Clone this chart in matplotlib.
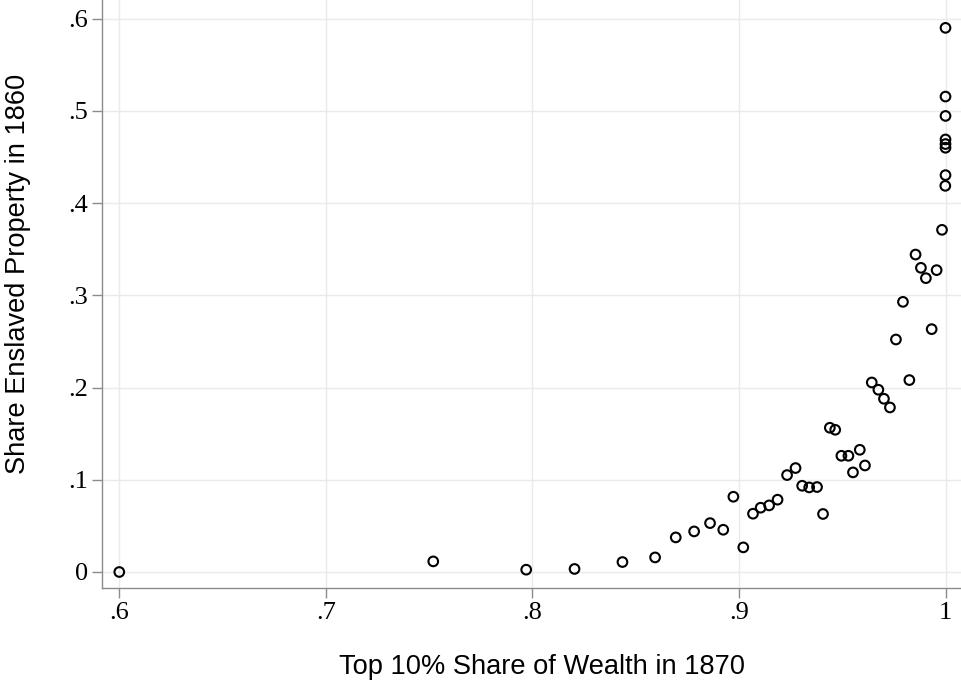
import matplotlib.pyplot as plt

# top 10% share of wealth in 1870 (x) and share of enslaved property in 1860 (y)
top10_share = [
    0.600, 0.752, 0.797, 0.8204, 0.8436, 0.8594, 0.8694, 0.8783, 0.886, 0.8924,
    0.8973, 0.9021, 0.9068, 0.9105, 0.9146, 0.9187, 0.9233, 0.9274, 0.9306, 0.934,
    0.9378, 0.9407, 0.944, 0.9466, 0.9496, 0.953, 0.9585, 0.9552, 0.961, 0.9643,
    0.9675, 0.9702, 0.9731, 0.976, 0.9825, 0.9794, 0.9933, 0.9855, 0.9881, 0.9905,
    0.9957, 0.9983, 0.9999, 1.0, 1.0, 1.0, 1.0, 1.0, 1.0, 1.0,
]
enslaved_share = [
    0.000, 0.0115, 0.0025, 0.0033, 0.0108, 0.0158, 0.0375, 0.044, 0.053, 0.0458,
    0.0816, 0.0267, 0.0632, 0.0697, 0.0722, 0.0784, 0.1051, 0.1127, 0.0935, 0.0917,
    0.0921, 0.0629, 0.1564, 0.1542, 0.126, 0.126, 0.1325, 0.108, 0.1155, 0.2055,
    0.1976, 0.1878, 0.1784, 0.2521, 0.2081, 0.2929, 0.2633, 0.3442, 0.3298, 0.3186,
    0.3273, 0.371, 0.4187, 0.4303, 0.460, 0.464, 0.469, 0.4945, 0.5155, 0.590,
]

x_ticks = [0.6, 0.7, 0.8, 0.9, 1.0]
x_tick_labels = [".6", ".7", ".8", ".9", "1"]
y_ticks = [0.0, 0.1, 0.2, 0.3, 0.4, 0.5, 0.6]
y_tick_labels = ["0", ".1", ".2", ".3", ".4", ".5", ".6"]

fig = plt.figure(figsize=(9.61, 6.81), dpi=100)
ax = fig.add_axes([0.1065, 0.1361, 0.8935, 0.8639])

ax.scatter(top10_share, enslaved_share, s=48, facecolors="none",
           edgecolors="black", linewidths=1.5, zorder=3)

ax.set_xlim(0.5918, 1.0075)
ax.set_ylim(-0.0177, 0.6202)

ax.set_xticks(x_ticks)
ax.set_xticklabels(x_tick_labels)
ax.set_yticks(y_ticks)
ax.set_yticklabels(y_tick_labels)

# tick labels in a Times-like serif, as in the original
for lbl in ax.get_xticklabels() + ax.get_yticklabels():
    lbl.set_fontfamily("Liberation Serif")
    lbl.set_fontsize(19)

ax.tick_params(axis="both", direction="out", length=7, width=1,
               color="#8c8c8c", pad=3)

ax.grid(True, color="#eaeaea", linewidth=1)
ax.set_axisbelow(True)

for side in ["top", "right"]:
    ax.spines[side].set_visible(False)
for side in ["left", "bottom"]:
    ax.spines[side].set_color("#8c8c8c")
    ax.spines[side].set_linewidth(1)

ax.set_xlabel("Top 10% Share of Wealth in 1870", family="Liberation Sans",
              fontsize=19.6)
ax.set_ylabel("Share Enslaved Property in 1860", family="Liberation Sans",
              fontsize=19.6)
ax.xaxis.set_label_coords(0.5126, -0.111)
ax.yaxis.set_label_coords(-0.083, 0.534)

fig.savefig("out.png", dpi=100)
